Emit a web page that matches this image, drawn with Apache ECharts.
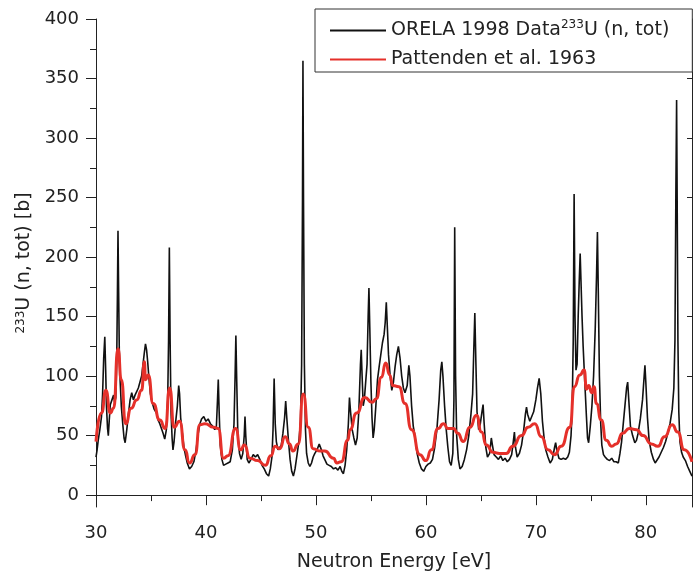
<!DOCTYPE html>
<html lang="en">
<head>
    <meta charset="UTF-8">
    <title>233U (n,tot)</title>
    <script src="https://cdn.jsdelivr.net/npm/echarts@6/dist/echarts.min.js"></script>
    <style>
        html, body { margin: 0; padding: 0; background: #fff; }
        #chart { width: 693px; height: 575px; }
    </style>
</head>
<body>
<div id="chart"></div>
<script>
    let orelaE = [30.0, 30.1, 30.2, 30.35, 30.5, 30.6, 30.7, 30.8, 30.88, 30.95, 31.05, 31.12, 31.2, 31.3, 31.45, 31.6, 31.7, 31.8, 31.88, 31.95,
        32.0, 32.06, 32.12, 32.2, 32.3, 32.45, 32.55, 32.65, 32.8, 32.95, 33.1, 33.25, 33.4, 33.55, 33.7, 33.85, 34.0, 34.15, 34.3, 34.4,
        34.5, 34.6, 34.7, 34.8, 34.95, 35.1, 35.3, 35.5, 35.65, 35.8, 35.95, 36.1, 36.25, 36.4, 36.52, 36.6, 36.67, 36.74, 36.82, 36.92,
        37.0, 37.1, 37.25, 37.4, 37.52, 37.6, 37.7, 37.85, 38.0, 38.15, 38.3, 38.5, 38.7, 38.9, 39.1, 39.3, 39.45, 39.6, 39.8, 40.0,
        40.2, 40.4, 40.6, 40.8, 40.95, 41.05, 41.12, 41.2, 41.3, 41.45, 41.6, 41.8, 42.0, 42.2, 42.4, 42.55, 42.65, 42.72, 42.8, 42.9,
        43.05, 43.2, 43.35, 43.48, 43.55, 43.62, 43.75, 43.9, 44.1, 44.3, 44.5, 44.7, 44.9, 45.1, 45.3, 45.5, 45.7, 45.85, 46.0, 46.1,
        46.2, 46.3, 46.4, 46.55, 46.7, 46.85, 47.0, 47.15, 47.25, 47.35, 47.5, 47.65, 47.8, 47.95, 48.1, 48.3, 48.45, 48.6, 48.7, 48.78,
        48.82, 48.87, 48.95, 49.05, 49.15, 49.3, 49.45, 49.6, 49.75, 49.9, 50.1, 50.3, 50.5, 50.65, 50.8, 51.0, 51.2, 51.4, 51.6, 51.8,
        52.0, 52.2, 52.35, 52.5, 52.65, 52.8, 52.95, 53.05, 53.15, 53.3, 53.45, 53.6, 53.75, 53.9, 54.05, 54.12, 54.2, 54.3, 54.4, 54.5,
        54.65, 54.75, 54.82, 54.9, 55.0, 55.1, 55.2, 55.3, 55.45, 55.6, 55.75, 55.9, 56.05, 56.2, 56.3, 56.4, 56.5, 56.6, 56.75, 56.9,
        57.05, 57.2, 57.35, 57.5, 57.65, 57.8, 57.95, 58.1, 58.3, 58.45, 58.55, 58.7, 58.85, 59.0, 59.2, 59.4, 59.6, 59.8, 60.0, 60.2,
        60.4, 60.6, 60.8, 61.0, 61.2, 61.35, 61.45, 61.55, 61.7, 61.85, 62.0, 62.15, 62.3, 62.45, 62.55, 62.62, 62.7, 62.8, 62.95, 63.1,
        63.3, 63.5, 63.7, 63.9, 64.1, 64.25, 64.35, 64.45, 64.55, 64.65, 64.8, 64.95, 65.1, 65.2, 65.3, 65.45, 65.6, 65.8, 65.95, 66.05,
        66.2, 66.4, 66.6, 66.8, 67.0, 67.2, 67.4, 67.6, 67.8, 67.95, 68.05, 68.15, 68.3, 68.5, 68.7, 68.9, 69.05, 69.15, 69.25, 69.45,
        69.6, 69.8, 70.0, 70.15, 70.3, 70.45, 70.6, 70.75, 70.9, 71.1, 71.3, 71.5, 71.7, 71.8, 71.9, 72.1, 72.3, 72.5, 72.7, 72.9,
        73.05, 73.2, 73.3, 73.4, 73.48, 73.56, 73.65, 73.75, 73.85, 73.95, 74.03, 74.12, 74.2, 74.3, 74.45, 74.6, 74.7, 74.8, 74.95, 75.1,
        75.25, 75.4, 75.52, 75.6, 75.68, 75.78, 75.9, 76.0, 76.15, 76.3, 76.5, 76.7, 76.9, 77.1, 77.3, 77.5, 77.65, 77.8, 77.95, 78.1,
        78.25, 78.35, 78.45, 78.6, 78.8, 79.0, 79.15, 79.3, 79.5, 79.7, 79.85, 79.92, 80.0, 80.15, 80.3, 80.5, 80.7, 80.85, 81.0, 81.2,
        81.4, 81.6, 81.8, 82.0, 82.2, 82.4, 82.55, 82.65, 82.73, 82.8, 82.85, 82.92, 83.0, 83.1, 83.25, 83.4, 83.6, 83.8, 84.0, 84.2];
    let orelaXS = [32, 38, 46, 55, 66, 85, 115, 133, 105, 75, 56, 50, 62, 76, 80, 84, 78, 82, 110, 170,
        222, 170, 120, 95, 75, 58, 48, 44, 55, 68, 80, 86, 80, 84, 87, 90, 95, 100, 112, 120,
        127, 122, 112, 100, 85, 78, 72, 69, 63, 60, 56, 52, 47, 55, 80, 130, 208, 130, 70, 48,
        38, 45, 62, 75, 92, 85, 65, 52, 40, 33, 27, 22, 24, 28, 38, 52, 60, 64, 66, 62,
        64, 60, 58, 55, 58, 80, 97, 70, 42, 30, 25, 26, 27, 28, 38, 60, 100, 134, 95, 50,
        35, 30, 35, 50, 66, 50, 30, 27, 30, 34, 32, 34, 30, 25, 22, 18, 16, 22, 32, 55,
        98, 60, 45, 38, 38, 42, 52, 65, 79, 65, 46, 30, 20, 16, 22, 35, 45, 62, 110, 250,
        365, 250, 110, 55, 35, 27, 24, 27, 32, 35, 38, 43, 38, 33, 30, 26, 25, 24, 22, 23,
        21, 24, 20, 18, 25, 38, 60, 82, 70, 55, 48, 42, 48, 70, 110, 122, 100, 75, 80, 92,
        110, 150, 174, 140, 95, 65, 48, 55, 75, 97, 108, 118, 128, 135, 145, 162, 140, 118, 100, 88,
        95, 108, 118, 125, 115, 100, 90, 86, 92, 109, 100, 75, 58, 50, 35, 27, 22, 20, 24, 26,
        27, 30, 40, 55, 80, 105, 112, 100, 75, 55, 40, 28, 25, 35, 80, 225, 100, 50, 30, 22,
        24, 30, 38, 50, 68, 85, 120, 153, 110, 70, 55, 60, 70, 76, 60, 40, 32, 35, 48, 42,
        34, 32, 30, 33, 29, 31, 28, 30, 34, 45, 53, 40, 32, 35, 42, 55, 68, 74, 68, 62,
        63, 70, 80, 90, 98, 85, 62, 48, 38, 32, 27, 30, 40, 44, 38, 31, 30, 31, 30, 32,
        36, 50, 70, 130, 253, 150, 105, 110, 150, 181, 203, 175, 150, 125, 95, 66, 48, 44, 58, 75,
        100, 140, 185, 221, 170, 100, 60, 42, 34, 32, 30, 29, 31, 28, 28, 27, 35, 45, 60, 75,
        90, 95, 80, 58, 50, 44, 46, 52, 64, 80, 100, 109, 95, 65, 46, 36, 30, 27, 28, 32,
        36, 40, 45, 52, 60, 72, 90, 130, 250, 332, 250, 130, 70, 45, 36, 32, 29, 24, 20, 16];

    // Pattenden et al. 1963 (smooth curve)
    let pattE = [30.0, 30.5, 30.9, 31.3, 31.6, 32.0, 32.3, 32.7, 33.2, 33.7, 34.15, 34.4, 34.5, 34.75, 35.2, 35.8, 36.3, 36.7, 37.1, 37.6,
        38.1, 38.5, 39.0, 39.45, 39.9, 40.7, 41.1, 41.6, 42.0, 42.7, 43.15, 43.5, 44.0, 44.7, 45.4, 45.9, 46.3, 46.7, 47.2, 47.6,
        47.9, 48.4, 48.85, 49.3, 49.75, 50.4, 50.8, 51.6, 51.9, 52.3, 52.9, 53.1, 53.7, 54.45, 55.1, 55.5, 55.95, 56.35, 56.7, 57.0,
        57.55, 58.1, 58.7, 59.45, 60.0, 60.5, 61.1, 61.6, 62.0, 62.5, 62.9, 63.4, 64.0, 64.6, 65.06, 65.5, 66.1, 66.7, 67.3, 67.9,
        68.7, 69.3, 69.9, 70.5, 71.1, 71.7, 72.3, 73.1, 73.5, 74.0, 74.4, 74.6, 74.8, 75.1, 75.3, 75.5, 75.95, 76.4, 76.9, 77.3,
        77.9, 78.5, 79.15, 79.75, 80.5, 81.1, 81.7, 82.4, 82.9, 83.5, 84.2];
    let pattXS = [45, 69, 88, 69, 73, 123, 97, 60, 73, 80, 88, 112, 97, 101, 77, 63, 56, 90, 57, 62,
        38, 27, 34, 59, 60, 57, 56, 31, 33, 56, 38, 42, 31, 29, 25, 33, 41, 39, 49, 43,
        37, 43, 85, 57, 39, 37, 37, 31, 27, 28, 46, 55, 69, 82, 78, 81, 99, 111, 101, 92,
        91, 77, 55, 34, 29, 38, 56, 60, 56, 56, 52, 45, 57, 67, 53, 42, 36, 35, 35, 41,
        50, 57, 60, 49, 38, 34, 41, 57, 91, 101, 105, 89, 92, 86, 91, 77, 63, 46, 41, 43,
        52, 56, 55, 50, 43, 41, 49, 59, 53, 38, 28];

    // axis ticks
    let yLabels = [0, 50, 100, 150, 200, 250, 300, 350, 400];
    let yMinor = [25, 75, 125, 175, 225, 275, 325, 375];

    let orelaName = 'ORELA 1998 Data233U (n, tot)';
    let pattName = 'Pattenden et al. 1963';

    function pairs(xs, ys) {
        let out = [];
        for (let i = 0; i < xs.length; i++) {
            out.push([xs[i], ys[i]]);
        }
        return out;
    }

    let font = 'DejaVu Sans';
    let ink = '#222';

    let myChart = echarts.init(document.getElementById('chart'));
    let option = {
        animation: false,
        grid: { left: 96, right: 1, top: 19, bottom: 68, outerBoundsMode: 'none' },
        legend: {
            orient: 'vertical',
            left: 315,
            top: 9,
            padding: [10, 23, 3, 14],
            itemGap: 10,
            itemWidth: 56,
            itemHeight: 1,   // keeps the legend symbol hidden inside the line
            borderColor: '#333',
            borderWidth: 1,
            borderRadius: 0,
            backgroundColor: '#fff',
            data: [orelaName, pattName],
            formatter: function (name) {
                if (name === orelaName) {
                    return '{t|ORELA 1998 Data}{sup|233}{t|U (n, tot)}';
                }
                return '{t|' + name + '}';
            },
            textStyle: {
                color: ink,
                fontFamily: font,
                fontSize: 19,
                rich: {
                    t: { fontFamily: font, fontSize: 19, color: ink, lineHeight: 23 },
                    sup: { fontFamily: font, fontSize: 12, color: ink, lineHeight: 12, verticalAlign: 'top' }
                }
            }
        },
        xAxis: [
            {
                type: 'value',
                min: 30,
                max: 84.2,
                interval: 10,
                name: 'Neutron Energy [eV]',
                nameLocation: 'middle',
                nameGap: 46,
                nameTextStyle: { fontFamily: font, fontSize: 19, color: ink },
                axisLine: { show: true, lineStyle: { color: ink, width: 1 } },
                axisTick: { show: true, inside: false, length: 10, lineStyle: { color: ink } },
                minorTick: { show: true, splitNumber: 2, length: 5, lineStyle: { color: ink } },
                axisLabel: { fontFamily: font, fontSize: 18, color: ink, margin: 17, showMaxLabel: false },
                splitLine: { show: false }
            },
            {
                type: 'value',
                position: 'top',
                min: 30,
                max: 84.2,
                interval: 10,
                axisLine: { show: true, lineStyle: { color: ink, width: 1 } },
                axisTick: { show: true, inside: true, length: 10, lineStyle: { color: ink } },
                minorTick: { show: true, splitNumber: 2, length: 6, lineStyle: { color: ink } },
                axisLabel: { show: false },
                splitLine: { show: false }
            }
        ],
        yAxis: [
            {
                type: 'value',
                min: -10,
                max: 400,
                name: '{sup|233}U (n, tot) [b]',
                nameLocation: 'middle',
                nameRotate: 90,
                nameGap: 62,
                nameTextStyle: {
                    fontFamily: font,
                    fontSize: 19,
                    color: ink,
                    rich: {
                        sup: { fontFamily: font, fontSize: 12, color: ink, lineHeight: 12, verticalAlign: 'top' }
                    }
                },
                axisLine: { show: true, lineStyle: { color: ink, width: 1 } },
                axisTick: { show: true, inside: false, length: 10, customValues: yLabels, lineStyle: { color: ink } },
                axisLabel: { fontFamily: font, fontSize: 18, color: ink, margin: 17, customValues: yLabels },
                splitLine: { show: false }
            },
            {
                type: 'value',
                position: 'left',
                min: -10,
                max: 400,
                axisLine: { show: false },
                axisTick: { show: true, inside: false, length: 6, customValues: yMinor, lineStyle: { color: ink } },
                axisLabel: { show: false },
                splitLine: { show: false }
            },
            {
                type: 'value',
                position: 'right',
                min: -10,
                max: 400,
                axisLine: { show: true, lineStyle: { color: ink, width: 1 } },
                axisTick: { show: true, inside: true, length: 5, customValues: yLabels, lineStyle: { color: ink } },
                axisLabel: { show: false },
                splitLine: { show: false }
            }
        ],
        series: [
            {
                name: orelaName,
                type: 'line',
                xAxisIndex: 0,
                yAxisIndex: 0,
                symbol: 'none',
                lineStyle: { color: '#111', width: 1.6 },
                itemStyle: { color: '#111' },
                data: pairs(orelaE, orelaXS)
            },
            {
                name: pattName,
                type: 'line',
                xAxisIndex: 0,
                yAxisIndex: 0,
                symbol: 'none',
                smooth: 0.6,
                smoothMonotone: 'x',
                lineStyle: { color: '#e5302a', width: 3 },
                itemStyle: { color: '#e5302a' },
                data: pairs(pattE, pattXS)
            }
        ]
    };
    myChart.setOption(option);
</script>
</body>
</html>
